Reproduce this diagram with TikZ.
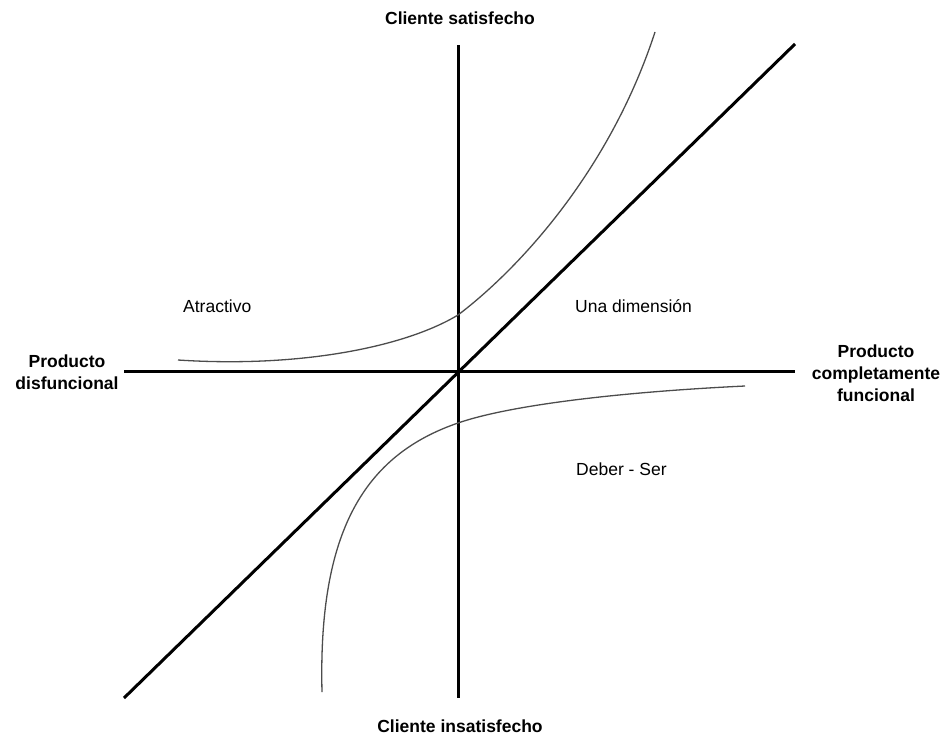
\documentclass[tikz,border=0pt]{standalone}
\usepackage{fontspec}
\setmainfont{Liberation Sans}
\begin{document}
\begin{tikzpicture}[x=1pt,y=-1pt,
  axisline/.style={line width=3pt,black},
  curveline/.style={line width=1.3pt,black!70},
  axislabel/.style={font=\fontsize{17.5}{22}\selectfont\bfseries,align=center,inner sep=0pt},
  zonelabel/.style={font=\fontsize{17.5}{22}\selectfont,inner sep=0pt,anchor=base west}]
\useasboundingbox (0,0) rectangle (949,736);
% axis endpoints
\coordinate (hl) at (124,371.5);
\coordinate (hr) at (795,371.5);
\coordinate (vt) at (458.5,45);
\coordinate (vb) at (458.5,698);
\coordinate (dl) at (124,698);
\coordinate (dr) at (795,44);
\draw[axisline] (hl) -- (hr);
\draw[axisline] (vt) -- (vb);
\draw[axisline] (dl) -- (dr);
% curves
\coordinate (a0) at (178,360);
\coordinate (a1) at (458,315);
\coordinate (a2) at (655,32);
\coordinate (b0) at (745,386);
\coordinate (b1) at (458,423);
\coordinate (b2) at (322,692);
\draw[curveline] (a0) .. controls (300,368) and (405,347) .. (a1)
  .. controls (520,268) and (610,170) .. (a2);
\draw[curveline] (b0) .. controls (620,392) and (510,405) .. (b1)
  .. controls (365,455) and (318,530) .. (b2);
% labels
\node[axislabel,anchor=base] (top) at (460,24) {Cliente satisfecho};
\node[axislabel,anchor=base] (bot) at (460,732) {Cliente insatisfecho};
\node[axislabel] (left) at (67,372) {Producto\\disfuncional};
\node[axislabel] (right) at (876,373) {Producto\\completamente\\funcional};
\node[zonelabel] (atr) at (183,312) {Atractivo};
\node[zonelabel] (una) at (575,312) {Una dimensión};
\node[zonelabel] (deb) at (576,475) {Deber - Ser};
\end{tikzpicture}
\end{document}
